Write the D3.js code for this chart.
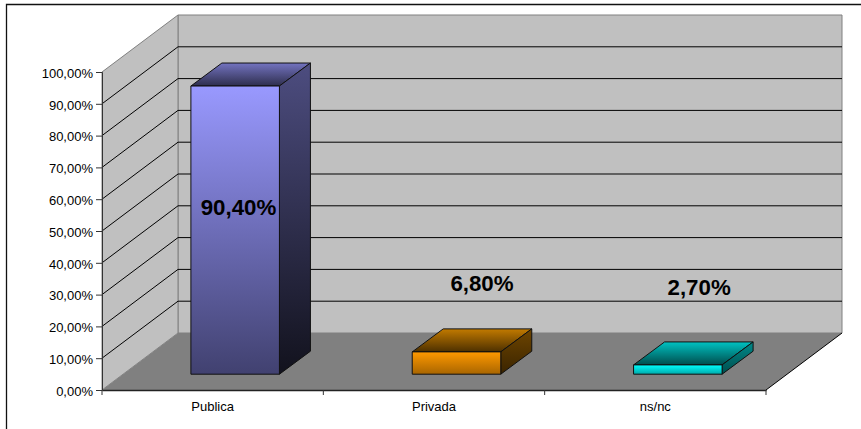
<!DOCTYPE html>
<html>
<head>
<meta charset="utf-8">
<script src="https://d3js.org/d3.v7.min.js"></script>
<style>
	html, body { margin: 0; padding: 0; background: #fff; }
	svg { display: block; }
	text { font-family: "Liberation Sans", Arial, sans-serif; fill: #000; }
</style>
</head>
<body>
<div id="chart"></div>
<script>
const categories = ["Publica", "Privada", "ns/nc"];
const values = [90.4, 6.8, 2.7];
const valueLabels = ["90,40%", "6,80%", "2,70%"];
const yTicks = [0, 10, 20, 30, 40, 50, 60, 70, 80, 90, 100];

// front, side and top face of each bar: [start colour, end colour]
const frontColors = [["#9999ff", "#414170"], ["#ff9900", "#a86500"], ["#00ffff", "#00a8a8"]];
const sideColors = [["#4d4d80", "#12121d"], ["#6e4500", "#3a2400"], ["#008a8a", "#004d4d"]];
const topColors = [["#7373c0", "#2e2e4d"], ["#c27a00", "#4d3000"], ["#00c2c2", "#004d4d"]];

const width = 861, height = 429;
const depth = {x: 76, y: -57};	//Offset from the front to the back of the box
const barShift = {x: 22.5, y: -15.8};	//Where the bars stand on the floor
const barTopLift = 0.7;	//Bars come out a touch taller than the axis scale
const barDepth = {x: 31, y: -23};	//Depth of a bar
const labelShift = [[3.3, 128.5], [25.5, -60.4], [21.3, -69.8]]; //Labels were placed by hand in the original

let svg = d3.select("#chart").append("svg")
	.attr("width", width)
	.attr("height", height);

let defs = svg.append("defs");

let x = d3.scaleBand()
	.domain(categories)
	.range([102, 766])
	.paddingInner(0.6)
	.paddingOuter(0.3);

let y = d3.scaleLinear()
	.domain([0, 100])
	.range([390, 72]);

const poly = pts => "M" + pts.map(p => p.join(",")).join("L") + "Z";

function gradient(id, stops) {
	let g = defs.append("linearGradient")
		.attr("id", id)
		.attr("x1", 0).attr("y1", 0)
		.attr("x2", 0).attr("y2", 1);
	g.append("stop").attr("offset", "0%").attr("stop-color", stops[0]);
	g.append("stop").attr("offset", "100%").attr("stop-color", stops[1]);
}

categories.forEach((c, i) => {
	gradient("front" + i, frontColors[i]);
	gradient("side" + i, sideColors[i]);
	gradient("top" + i, topColors[i]);
});

// outer frame, runs off the right and bottom of the picture
svg.append("path")
	.attr("d", `M6.5,${height}V4.5H${width}`)
	.attr("fill", "none")
	.attr("stroke", "#111")
	.attr("stroke-width", 1.3);

const x0 = x.range()[0], x1 = x.range()[1];
const yBottom = y(0), yTop = y(100);

// floor
svg.append("path")
	.attr("d", poly([[x0, yBottom], [x0 + depth.x, yBottom + depth.y], [x1 + depth.x, yBottom + depth.y], [x1, yBottom]]))
	.attr("fill", "#808080");

// back wall
svg.append("path")
	.attr("d", poly([[x0 + depth.x, yTop + depth.y], [x1 + depth.x, yTop + depth.y], [x1 + depth.x, yBottom + depth.y], [x0 + depth.x, yBottom + depth.y]]))
	.attr("fill", "#c0c0c0")
	.attr("stroke", "#808080");

// left wall
svg.append("path")
	.attr("d", poly([[x0, yBottom], [x0, yTop], [x0 + depth.x, yTop + depth.y], [x0 + depth.x, yBottom + depth.y]]))
	.attr("fill", "#c0c0c0")
	.attr("stroke", "#808080");

// gridlines on both walls
svg.append("g")
	.selectAll("path")
	.data(yTicks.filter(d => d > 0 && d < 100))
	.enter()
	.append("path")
	.attr("d", d => `M${x0},${y(d)}L${x0 + depth.x},${y(d) + depth.y}H${x1 + depth.x}`)
	.attr("fill", "none")
	.attr("stroke", "#000");

// outer floor edge on the right
svg.append("line")
	.attr("x1", x1).attr("y1", yBottom)
	.attr("x2", x1 + depth.x).attr("y2", yBottom + depth.y)
	.attr("stroke", "#000");

// axes
let yAxis = svg.append("g")
	.attr("transform", `translate(${x0},0)`)
	.call(d3.axisLeft(y)
		.tickValues(yTicks)
		.tickFormat(d => d + ",00%")
		.tickSize(6)
		.tickPadding(3));
yAxis.selectAll("text").style("font-size", "13px").attr("dy", "0.4em");
yAxis.selectAll("line").attr("stroke", "#333");
yAxis.select(".domain").attr("stroke", "#333");

let xAxis = svg.append("g")
	.attr("transform", `translate(0,${yBottom})`)
	.call(d3.axisBottom(x).tickSize(0).tickPadding(12));
xAxis.selectAll("text").style("font-size", "13px");
xAxis.select(".domain").attr("stroke", "#222").attr("stroke-width", 1.3);

// ticks sit between the categories on this axis
xAxis.selectAll(".sep")
	.data(d3.range(categories.length + 1))
	.enter()
	.append("line")
	.attr("class", "sep")
	.attr("x1", i => x0 + x.step() * i)
	.attr("x2", i => x0 + x.step() * i)
	.attr("y1", 0)
	.attr("y2", 5)
	.attr("stroke", "#333");

// bars
let bar = svg.selectAll(".bar")
	.data(values)
	.enter()
	.append("g")
	.attr("class", "bar")
	.attr("stroke", "#111")
	.attr("stroke-linejoin", "round");

const left = i => x(categories[i]) + barShift.x;
const right = i => left(i) + x.bandwidth();
const barTop = d => y(d) + barShift.y - barTopLift;
const base = yBottom + barShift.y;

bar.append("path")
	.attr("d", (d, i) => poly([[left(i), barTop(d)], [left(i) + barDepth.x, barTop(d) + barDepth.y], [right(i) + barDepth.x, barTop(d) + barDepth.y], [right(i), barTop(d)]]))
	.attr("fill", (d, i) => `url(#top${i})`);

bar.append("path")
	.attr("d", (d, i) => poly([[right(i), barTop(d)], [right(i) + barDepth.x, barTop(d) + barDepth.y], [right(i) + barDepth.x, base + barDepth.y], [right(i), base]]))
	.attr("fill", (d, i) => `url(#side${i})`);

bar.append("path")
	.attr("d", (d, i) => poly([[left(i), barTop(d)], [right(i), barTop(d)], [right(i), base], [left(i), base]]))
	.attr("fill", (d, i) => `url(#front${i})`);

// value labels
svg.selectAll(".value")
	.data(values)
	.enter()
	.append("text")
	.attr("class", "value")
	.attr("text-anchor", "middle")
	.style("font-size", "22.3px")
	.style("font-weight", "bold")
	.attr("x", (d, i) => left(i) + x.bandwidth() / 2 + labelShift[i][0])
	.attr("y", (d, i) => barTop(d) + labelShift[i][1])
	.text((d, i) => valueLabels[i]);
</script>
</body>
</html>
